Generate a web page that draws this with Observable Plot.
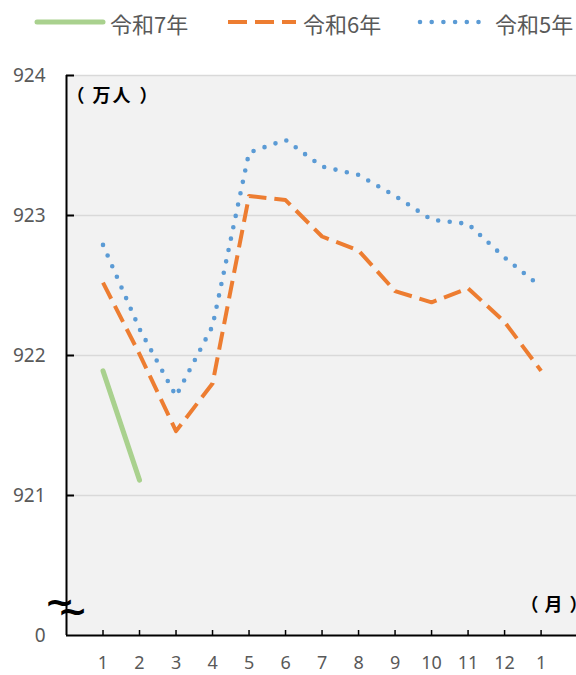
<!DOCTYPE html>
<html><head><meta charset="utf-8">
<script src="https://cdn.jsdelivr.net/npm/d3@7"></script>
<script src="https://cdn.jsdelivr.net/npm/@observablehq/plot@0.6"></script>
<style>
body{margin:0;background:#fff;}
#legend{position:relative;width:576px;height:45px;font-family:'Noto Sans CJK JP',sans-serif;font-size:22px;color:#595959;}
.item{position:absolute;top:0;height:45px;display:flex;align-items:center;white-space:nowrap;}
#chart svg{display:block;}
</style></head><body>
<div id="legend"></div>
<div id="chart"></div>
<script>
// Data
const monthLabels = ["1","2","3","4","5","6","7","8","9","10","11","12","1"];
const seriesNames = ["令和7年","令和6年","令和5年"];
const seriesColors = ["#A9D18E","#ED7D31","#5B9BD5"];
const reiwa7 = [921.89, 921.11];
const reiwa6 = [922.52, 922.01, 921.46, 921.80, 923.14, 923.11, 922.85, 922.75, 922.46, 922.38, 922.48, 922.24, 921.89];
const reiwa5 = [922.79, 922.19, 921.71, 922.21, 923.45, 923.54, 923.35, 923.29, 923.14, 922.97, 922.94, 922.70, 922.49];
const yTickValues = [920, 921, 922, 923, 924];
const yTickLabels = ["0", "921", "922", "923", "924"];
const unitY = "（万人）";
const unitX = "（月）";

const seriesValues = [reiwa7, reiwa6, reiwa5];
const rows = seriesValues.map((vals, s) => vals.map((v, i) => ({series: seriesNames[s], m: i + 1, v})));
const xPositions = monthLabels.map((_, i) => i + 1);

// Styles per series
const styles = [
  {strokeWidth: 5, strokeLinecap: "round", strokeDasharray: null},
  {strokeWidth: 4, strokeLinecap: "butt", strokeDasharray: "18,8"},
  {strokeWidth: 4.6, strokeLinecap: "round", strokeDasharray: "0,11.6"}
];

// Legend
const legend = document.getElementById("legend");
const legendX = [[35, 70, 110], [228, 68, 303], [420, 62, 495]];
seriesNames.forEach((name, s) => {
  const [lx, lw, tx] = legendX[s];
  const sw = document.createElementNS("http://www.w3.org/2000/svg", "svg");
  sw.setAttribute("width", lw + 6);
  sw.setAttribute("height", 12);
  sw.style.position = "absolute";
  sw.style.left = (lx - 3) + "px";
  sw.style.top = "16px";
  const ln = document.createElementNS("http://www.w3.org/2000/svg", "line");
  ln.setAttribute("x1", 3 + (s === 0 ? 2 : 0));
  ln.setAttribute("x2", 3 + lw - (s === 0 ? 2 : 0));
  ln.setAttribute("y1", 6); ln.setAttribute("y2", 6);
  ln.setAttribute("stroke", seriesColors[s]);
  ln.setAttribute("stroke-width", styles[s].strokeWidth);
  ln.setAttribute("stroke-linecap", styles[s].strokeLinecap);
  if (styles[s].strokeDasharray) ln.setAttribute("stroke-dasharray", s === 1 ? "19,8" : "0,11.7");
  sw.appendChild(ln);
  legend.appendChild(sw);
  const t = document.createElement("div");
  t.className = "item";
  t.style.left = tx + "px";
  t.textContent = name;
  legend.appendChild(t);
});

const W = 576, H = 630, mT = 30, mB = 40, mL = 66, mR = 0;
const font = "'Noto Sans', 'Noto Sans CJK JP', sans-serif";
const cjk = "'Noto Sans CJK JP', sans-serif";

const chart = Plot.plot({
  width: W, height: H,
  marginTop: mT, marginBottom: mB, marginLeft: mL, marginRight: mR,
  style: {fontFamily: font, color: "#595959", background: "#ffffff", overflow: "visible"},
  x: {type: "linear", domain: [0, 13.97], axis: null},
  y: {domain: [920, 924], axis: null},
  marks: [
    Plot.frame({fill: "#f2f2f2", stroke: null}),
    Plot.gridY([921, 922, 923, 924], {stroke: "#d9d9d9", strokeOpacity: 1, strokeWidth: 1.5}),
    ...rows.map((r, s) => Plot.line(r, {
      x: "m", y: "v", stroke: seriesColors[s],
      strokeWidth: styles[s].strokeWidth,
      strokeLinecap: styles[s].strokeLinecap,
      strokeLinejoin: "round",
      strokeDasharray: styles[s].strokeDasharray
    })),
    Plot.ruleX([0], {stroke: "#000", strokeWidth: 2}),
    Plot.ruleY([920], {stroke: "#000", strokeWidth: 2}),
    Plot.tickY([921, 922, 923, 924], {y: d => d, stroke: "#000", strokeWidth: 2, insetRight: W - mL - mR - 8}),
    Plot.tickX(xPositions, {x: d => d, stroke: "#000", strokeWidth: 1.5, insetTop: H - mT - mB - 5}),
    Plot.axisY(yTickValues, {label: null, tickSize: 0, tickPadding: 21, tickFormat: d => yTickLabels[yTickValues.indexOf(d)], fontSize: 19, fill: "#595959", fontFamily: font}),
    Plot.axisX(xPositions, {label: null, tickSize: 0, tickPadding: 21, tickFormat: d => monthLabels[d - 1], fontSize: 18, fill: "#595959", fontFamily: font}),
    Plot.text([unitY], {text: d => d, frameAnchor: "top-left", textAnchor: "start", dx: 3, dy: 14, fontSize: 18, fontWeight: "bold", fill: "#000", fontFamily: cjk}),
    Plot.text([unitX], {text: d => d, frameAnchor: "bottom-right", textAnchor: "start", dx: -54, dy: -25, fontSize: 18, fontWeight: "bold", fill: "#000", fontFamily: cjk}),
    Plot.text(["~"], {text: d => d, frameAnchor: "bottom-left", textAnchor: "middle", dx: -7, dy: -22, fontSize: 36, fontWeight: "bold", fill: "#000", fontFamily: "'DejaVu Sans', sans-serif"}),
    Plot.text(["~"], {text: d => d, frameAnchor: "bottom-left", textAnchor: "middle", dx: 6, dy: -13, fontSize: 36, fontWeight: "bold", fill: "#000", fontFamily: "'DejaVu Sans', sans-serif"})
  ]
});
// Per-character spacing of the unit labels to match the reference's wider punctuation
d3.select(chart).selectAll("text").each(function() {
  const t = this.textContent;
  if (t === unitY) this.setAttribute("dx", "-3 8 2 9");
  if (t === unitX) this.setAttribute("dx", "-2 6 7");
});
document.getElementById("chart").appendChild(chart);
</script>
</body></html>
